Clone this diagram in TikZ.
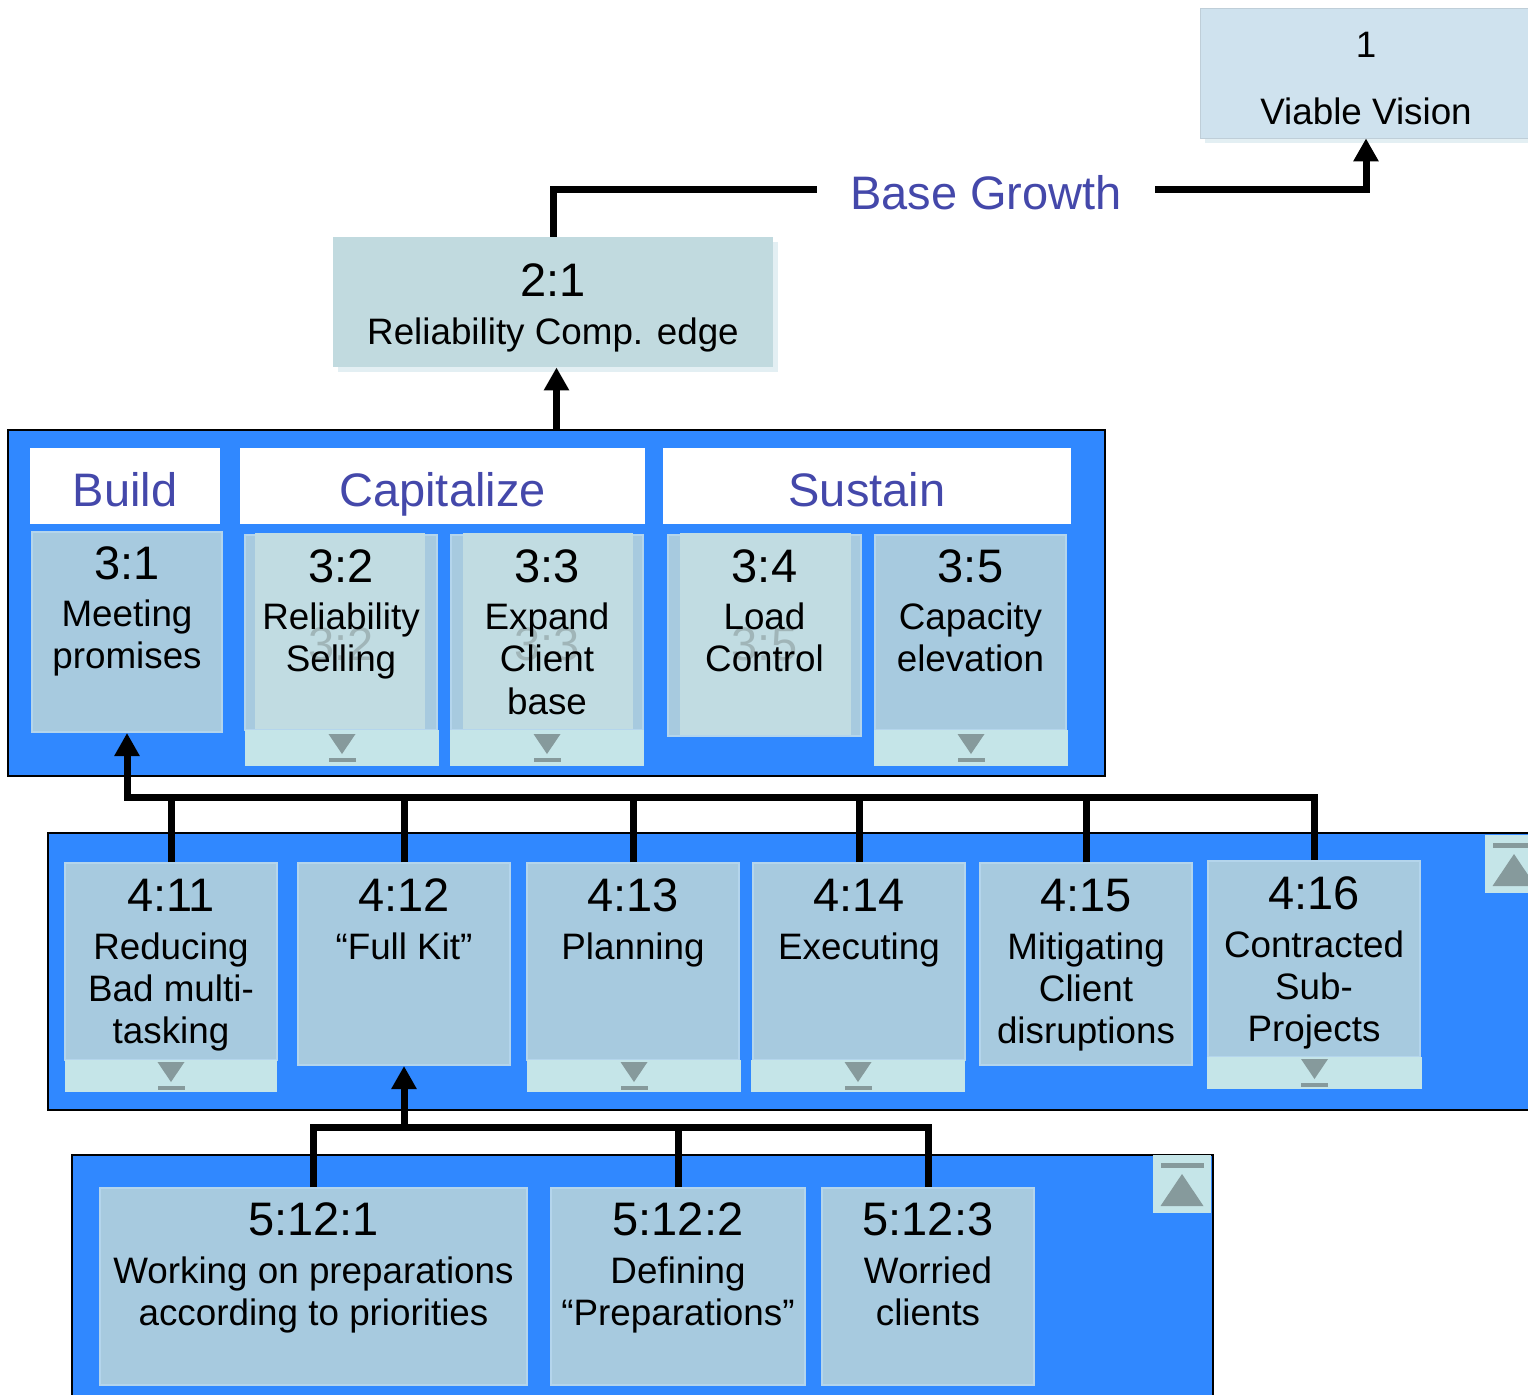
\documentclass[tikz,border=0pt]{standalone}
\usepackage{fontspec}
\setmainfont{Liberation Sans}
\usetikzlibrary{arrows.meta,positioning,fit}
\definecolor{panelblue}{HTML}{3088FF}
\definecolor{cardblue}{HTML}{A7CADF}
\definecolor{cardedge}{HTML}{B4D5EC}
\definecolor{ghostfill}{HTML}{C1DCE2}
\definecolor{ghosttext}{HTML}{A0B5B8}
\definecolor{stripfill}{HTML}{C5E5E8}
\definecolor{icongray}{HTML}{869A9C}
\definecolor{headblue}{HTML}{4448AA}
\definecolor{boxtwo}{HTML}{C1DADF}
\definecolor{boxone}{HTML}{CFE2EE}
\definecolor{shade}{HTML}{E3EFF3}

\begin{document}
\begin{tikzpicture}[x=0.5pt,y=-0.5pt,
  panel/.style={draw=black,line width=0.8pt,fill=panelblue,inner sep=0pt},
  card/.style={draw=cardedge,line width=1pt,fill=cardblue,inner sep=0pt},
  topbox/.style={inner sep=0pt,preaction={fill=shade,transform canvas={shift={(2.5pt,-2.5pt)}}}},
  ghost/.style={fill=ghostfill,inner sep=0pt},
  strip/.style={fill=stripfill,inner sep=0pt},
  headbox/.style={fill=white,inner sep=0pt},
  headtxt/.style={inner sep=0pt,text=headblue,font=\fontsize{23.5}{28}\selectfont},
  num/.style={anchor=base,inner sep=0pt,font=\fontsize{23.5}{28}\selectfont},
  txt/.style={anchor=north,inner sep=0pt,align=center,font=\fontsize{18.4}{21.2}\selectfont},
  ghostnum/.style={num,text=ghosttext},
  link/.style={line width=3.5pt},
  flow/.style={line width=3.5pt,-{Triangle[length=11.5pt,width=12pt]}},
  downmark/.pic={
    \fill[icongray] (-13.5,-14) -- (13.5,-14) -- (0,6) -- cycle;
    \fill[icongray] (-13.5,10) rectangle (13.5,14);
  },
  upmark/.pic={
    \fill[stripfill] (-29,-29) rectangle (29,29);
    \fill[icongray] (-21.5,-21) rectangle (21.5,-16);
    \fill[icongray] (-21.5,22) -- (21.5,22) -- (0,-10) -- cycle;
  }
]
\useasboundingbox (0,0) rectangle (1528,1394);
\clip (0,0) rectangle (1528,1394);

% top of the tree
\node[topbox,fill=boxone,draw=boxone!80!gray,fit={(1200,8) (1532,138)}] (c1) {};
\node[num,font=\fontsize{18.4}{21.2}\selectfont] (k1) at ([yshift=-25pt]c1.north) {1};
\node[txt,anchor=base] (t1) at ([yshift=-58.5pt]c1.north) {Viable Vision};
\node[topbox,fill=boxtwo,fit={(333,237) (773,367)}] (c21) {};
\node[num] (k21) at ([yshift=-30pt]c21.north) {2:1};
\node[txt,anchor=base] (t21) at ([yshift=-54pt]c21.north) {Reliability Comp. edge};
\node[headtxt,inner xsep=16.5pt,text height=20.5pt,text depth=0pt] (growth) at (986,189) {Base Growth};

% level 3
\node[panel,fit={(8,430) (1105,776)}] (p3) {};
\node[headbox,fit={(30,448) (220,524)}] (hbuild) {};
\node[headbox,fit={(240,448) (645,524)}] (hcap) {};
\node[headbox,fit={(663,448) (1071,524)}] (hsus) {};
\node[headtxt,anchor=base] (lbuild) at ([yshift=9pt]hbuild.south) {Build};
\node[headtxt,anchor=base] (lcap) at ([yshift=9pt]hcap.south) {Capitalize};
\node[headtxt,anchor=base] (lsus) at ([yshift=9pt]hsus.south) {Sustain};

\node[card,fit={(32,532) (222,732)}] (c31) {};
\node[card,fit={(245,535) (437,730)}] (c32) {};
\node[ghost,fit={(255,533) (425,729)}] (g32) {};
\node[strip,fit={(245,730) (439,766)}] (s32) {};
\node[card,fit={(451,535) (643,730)}] (c33) {};
\node[ghost,fit={(463,533) (633,729)}] (g33) {};
\node[strip,fit={(450,730) (644,766)}] (s33) {};
\node[card,fit={(668,535) (861,736)}] (c34) {};
\node[ghost,fit={(680,533) (851,735)}] (g34) {};
\node[card,fit={(875,535) (1066,730)}] (c35) {};
\node[strip,fit={(874,730) (1068,766)}] (s35) {};

\node[ghostnum] (x32) at ([yshift=-63pt]c32.north) {3:2};
\node[ghostnum] (x33) at ([yshift=-63pt]c33.north) {3:3};
\node[ghostnum] (x34) at ([yshift=-63pt]c34.north) {3:5};

\node[num] (k31) at ([yshift=-24pt]c31.north) {3:1};
\node[txt] (t31) at ([yshift=-34.25pt]c31.north) {Meeting\\promises};
\node[num] (k32) at ([yshift=-24pt]c32.north) {3:2};
\node[txt] (t32) at ([yshift=-34.25pt]c32.north) {Reliability\\Selling};
\node[num] (k33) at ([yshift=-24pt]c33.north) {3:3};
\node[txt] (t33) at ([yshift=-34.25pt]c33.north) {Expand\\Client\\base};
\node[num] (k34) at ([yshift=-24pt]c34.north) {3:4};
\node[txt] (t34) at ([yshift=-34.25pt]c34.north) {Load\\Control};
\node[num] (k35) at ([yshift=-24pt]c35.north) {3:5};
\node[txt] (t35) at ([yshift=-34.25pt]c35.north) {Capacity\\elevation};

% level 4
\node[panel,fit={(48,833) (1545,1110)}] (p4) {};
\node[card,fit={(65,863) (277,1060)}] (c411) {};
\node[strip,fit={(65,1060) (277,1092)}] (s411) {};
\node[card,fit={(298,863) (510,1065)}] (c412) {};
\node[card,fit={(527,863) (739,1060)}] (c413) {};
\node[strip,fit={(527,1060) (741,1092)}] (s413) {};
\node[card,fit={(753,863) (965,1060)}] (c414) {};
\node[strip,fit={(751,1060) (965,1092)}] (s414) {};
\node[card,fit={(980,863) (1192,1065)}] (c415) {};
\node[card,fit={(1208,861) (1420,1057)}] (c416) {};
\node[strip,fit={(1207,1057) (1422,1089)}] (s416) {};

\node[num] (k411) at ([yshift=-24.5pt]c411.north) {4:11};
\node[txt] (t411) at ([yshift=-35pt]c411.north) {Reducing\\Bad multi-\\tasking};
\node[num] (k412) at ([yshift=-24.5pt]c412.north) {4:12};
\node[txt] (t412) at ([yshift=-35pt]c412.north) {“Full Kit”};
\node[num] (k413) at ([yshift=-24.5pt]c413.north) {4:13};
\node[txt] (t413) at ([yshift=-35pt]c413.north) {Planning};
\node[num] (k414) at ([yshift=-24.5pt]c414.north) {4:14};
\node[txt] (t414) at ([yshift=-35pt]c414.north) {Executing};
\node[num] (k415) at ([yshift=-24.5pt]c415.north) {4:15};
\node[txt] (t415) at ([yshift=-35pt]c415.north) {Mitigating\\Client\\disruptions};
\node[num] (k416) at ([yshift=-24.5pt]c416.north) {4:16};
\node[txt] (t416) at ([yshift=-35pt]c416.north) {Contracted\\Sub-\\Projects};

% level 5
\node[panel,fit={(72,1155) (1213,1405)}] (p5) {};
\node[card,fit={(100,1188) (527,1385)}] (c5121) {};
\node[card,fit={(551,1188) (805,1385)}] (c5122) {};
\node[card,fit={(822,1188) (1034,1385)}] (c5123) {};
\node[num] (k5121) at ([yshift=-24pt]c5121.north) {5:12:1};
\node[txt] (t5121) at ([yshift=-34.5pt]c5121.north) {Working on preparations\\according to priorities};
\node[num] (k5122) at ([yshift=-24pt]c5122.north) {5:12:2};
\node[txt] (t5122) at ([yshift=-34.5pt]c5122.north) {Defining\\“Preparations”};
\node[num] (k5123) at ([yshift=-24pt]c5123.north) {5:12:3};
\node[txt] (t5123) at ([yshift=-34.5pt]c5123.north) {Worried\\clients};

% expand / collapse marks
\foreach \s in {s32,s33,s35,s411,s413,s414,s416}
  \pic at (\s) {downmark};
\pic at (1514,864) {upmark};
\pic at (1182,1184) {upmark};

% connectors
\coordinate (bus4) at (0,797);
\coordinate (bus5) at (0,1127);
\draw[link] (c21.north) |- (growth.west);
\draw[flow] (growth.east) -| (c1.south);
\draw[flow] (p3.north) -- (p3.north |- c21.south);
\draw[flow] (c416.north) |- (c31.south |- bus4) -- (c31.south);
\foreach \c in {c411,c412,c413,c414,c415}
  \draw[link] (\c.north) -- (\c.north |- bus4);
\draw[link] (c5121.north) |- (c5123.north |- bus5) -- (c5123.north);
\draw[link] (c5122.north) -- (c5122.north |- bus5);
\draw[flow] (c412.south |- bus5) -- (c412.south);
\end{tikzpicture}
\end{document}
